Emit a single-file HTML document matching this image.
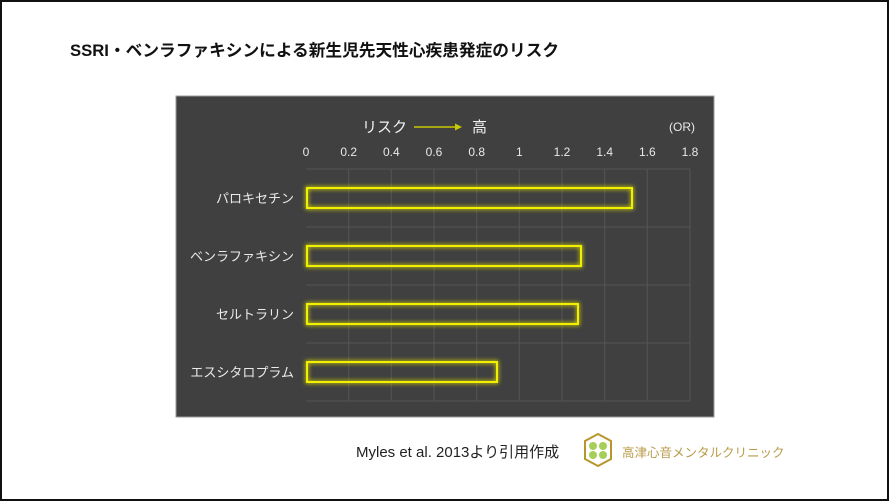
<!DOCTYPE html>
<html><head><meta charset="utf-8"><style>
html,body{margin:0;padding:0;background:#fff}
body{width:890px;height:502px;overflow:hidden;position:relative}
</style></head><body>
<svg width="890" height="502" xmlns="http://www.w3.org/2000/svg" style="position:absolute;left:0;top:0;font-family:'Liberation Sans','Noto Sans CJK JP',sans-serif">
<defs><filter id="g" x="-10%" y="-50%" width="120%" height="200%"><feGaussianBlur stdDeviation="2"/></filter></defs>
<rect x="1" y="1" width="887" height="499" fill="#fff" stroke="#111" stroke-width="2"/>
<text x="70" y="56" font-size="16.7" font-weight="bold" fill="#111">SSRI・ベンラファキシンによる新生児先天性心疾患発症のリスク</text>
<rect x="176" y="96" width="538" height="321" fill="#404040" stroke="#9a9a9a" stroke-width="1"/>
<g stroke="#555" stroke-width="1">
<line x1="306" y1="169" x2="690" y2="169"/><line x1="306" y1="227" x2="690" y2="227"/><line x1="306" y1="285" x2="690" y2="285"/><line x1="306" y1="343" x2="690" y2="343"/><line x1="306" y1="401" x2="690" y2="401"/>
<line x1="348.7" y1="169" x2="348.7" y2="401"/><line x1="391.3" y1="169" x2="391.3" y2="401"/><line x1="434" y1="169" x2="434" y2="401"/><line x1="476.7" y1="169" x2="476.7" y2="401"/><line x1="519.3" y1="169" x2="519.3" y2="401"/><line x1="562" y1="169" x2="562" y2="401"/><line x1="604.7" y1="169" x2="604.7" y2="401"/><line x1="647.3" y1="169" x2="647.3" y2="401"/><line x1="690" y1="169" x2="690" y2="401"/>
</g>
<g font-size="12" fill="#e8e8e8" text-anchor="middle">
<text x="306" y="156">0</text><text x="348.7" y="156">0.2</text><text x="391.3" y="156">0.4</text><text x="434" y="156">0.6</text><text x="476.7" y="156">0.8</text><text x="519.3" y="156">1</text><text x="562" y="156">1.2</text><text x="604.7" y="156">1.4</text><text x="647.3" y="156">1.6</text><text x="690" y="156">1.8</text>
</g>
<text x="669" y="131" font-size="12" fill="#e8e8e8">(OR)</text>
<text x="362" y="132" font-size="15" fill="#f0f0f0">リスク</text>
<line x1="414" y1="127" x2="456" y2="127" stroke="#c8c800" stroke-width="1.5"/><polygon points="455,123.5 462,127 455,130.5" fill="#c8c800"/>
<text x="472" y="132" font-size="15" fill="#f0f0f0">高</text>
<g font-size="13" fill="#eaeaea" text-anchor="end">
<text x="294" y="203">パロキセチン</text><text x="294" y="261">ベンラファキシン</text><text x="294" y="319">セルトラリン</text><text x="294" y="377">エスシタロプラム</text>
</g>
<g fill="none" stroke="#e0e000" stroke-width="3" filter="url(#g)" opacity="0.9">
<rect x="307" y="188" width="325" height="20"/><rect x="307" y="246" width="274" height="20"/><rect x="307" y="304" width="271" height="20"/><rect x="307" y="362" width="190" height="20"/>
</g>
<g fill="none" stroke="#f0f000" stroke-width="2">
<rect x="307" y="188" width="325" height="20"/><rect x="307" y="246" width="274" height="20"/><rect x="307" y="304" width="271" height="20"/><rect x="307" y="362" width="190" height="20"/>
</g>
<text x="356" y="457" font-size="15" fill="#222">Myles et al. 2013より引用作成</text>
<polygon points="598,434 611,441 611,459 598,466 585,459 585,441" fill="#fff" stroke="#b8962e" stroke-width="2"/>
<circle cx="593" cy="446" r="4" fill="#a6cf5a"/><circle cx="603" cy="446" r="4" fill="#a6cf5a"/><circle cx="593" cy="455" r="4" fill="#a6cf5a"/><circle cx="603" cy="455" r="4" fill="#a6cf5a"/>
<text x="622" y="457" font-size="12.5" fill="#b89b48">高津心音メンタルクリニック</text>
</svg>
</body></html>
